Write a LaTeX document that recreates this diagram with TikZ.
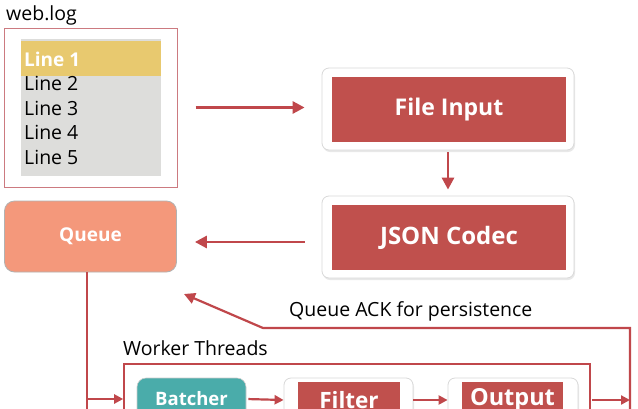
\documentclass[tikz,border=0pt]{standalone}
\usepackage{fontspec}
\setmainfont{Open Sans}
\usetikzlibrary{arrows.meta,shadows}
\definecolor{cred}{HTML}{C0504D}
\definecolor{carr}{HTML}{C0474B}
\definecolor{cgray}{HTML}{DDDDDB}
\definecolor{cyel}{HTML}{E8C96F}
\definecolor{cframe}{HTML}{CC7A80}
\definecolor{cqueue}{HTML}{F4987B}
\definecolor{cteal}{HTML}{4AACAA}
\newcommand{\fsz}[1]{\fontsize{#1}{#1}\selectfont}
\begin{document}
\begin{tikzpicture}[x=1pt,y=-1pt,
  lbl/.style={inner sep=0pt, font=\fsz{19.5}, text=black},
  shell/.style={fill=white, draw=black!15, line width=0.8pt, rounded corners=7pt,
    drop shadow={opacity=0.18, shadow xshift=1pt, shadow yshift=-2pt}},
  redbox/.style={fill=cred, text=white, inner sep=0pt, font=\fsz{23}\bfseries},
  arr/.style={draw=carr, line width=2.8pt, -{Triangle[length=12pt,width=12pt]}},
  arrs/.style={draw=carr, line width=2.2pt, -{Triangle[length=9pt,width=9pt]}},
  wire/.style={draw=carr, line width=2.2pt}]
\useasboundingbox (0,0) rectangle (638,408);
\clip (0,0) rectangle (638,408);
\fill[white] (0,0) rectangle (638,408);

% web.log
\node[lbl, anchor=base west] (title) at (6,20) {web.log};
\node[draw=cframe, line width=1pt, minimum width=173pt, minimum height=159pt, inner sep=0pt] (logbox) at (90.5,107.5) {};
\node[fill=cgray, minimum width=140pt, minimum height=137pt, inner sep=0pt] (gray) at (91,107.5) {};
\node[fill=cyel, minimum width=140pt, minimum height=35pt, inner sep=0pt] (yel) at (91,58.5) {};
\node[lbl, anchor=base west, text=white, font=\fsz{19}\bfseries] (l1) at (24,66) {Line 1};
\node[lbl, anchor=base west] (l2) at (24,90) {Line 2};
\node[lbl, anchor=base west] (l3) at (24,115) {Line 3};
\node[lbl, anchor=base west] (l4) at (24,139) {Line 4};
\node[lbl, anchor=base west] (l5) at (24,164) {Line 5};

% File Input / JSON Codec
\node[shell, minimum width=252pt, minimum height=82pt] (fi) at (448,109) {};
\node[redbox, minimum width=234pt, minimum height=65pt] (fiin) at (449,109.5) {File Input};
\node[shell, minimum width=252pt, minimum height=82pt] (js) at (448,237) {};
\node[redbox, minimum width=234pt, minimum height=65pt, font=\fsz{24}\bfseries] (jsin) at (449,237.5) {JSON Codec};

% Queue
\node[fill=cqueue, draw=black!30, line width=0.8pt, rounded corners=10pt,
  minimum width=172pt, minimum height=71pt, text=white, font=\fsz{19}\bfseries] (queue) at (90.5,236.5) {Queue};

% top arrows
\draw[arr, shorten <=18pt, shorten >=17pt] (logbox.east) -- (logbox.east -| fi.west);
\draw[arr, shorten <=2pt, shorten >=6pt] (fi.south) -- (js.north);
\draw[arr, shorten <=17pt, shorten >=18pt] ([yshift=-5pt]js.west) -- ([yshift=-5pt]js.west -| queue.east);

% labels
\node[lbl, anchor=base west] (ack) at (289,316) {Queue ACK for persistence};
\node[lbl, anchor=base west] (wt) at (123,355) {Worker Threads};

% worker threads frame
\node[draw=carr, line width=1.6pt, minimum width=466pt, minimum height=70pt, inner sep=0pt] (worker) at (357,399) {};

% workers
\node[fill=cteal, draw=black!20, line width=0.6pt, rounded corners=9pt, minimum width=109pt, minimum height=42pt,
  text=white, font=\fsz{18.5}\bfseries] (batch) at (191.5,399) {Batcher};
\node[shell, minimum width=129pt, minimum height=44pt] (flt) at (348.5,400) {};
\node[redbox, minimum width=102pt, minimum height=36pt, font=\fsz{22.5}\bfseries] (fltin) at (349,400) {Filter};
\node[shell, minimum width=130pt, minimum height=44pt] (out) at (513,400) {};
\node[redbox, minimum width=101pt, minimum height=36pt, font=\fsz{23.5}\bfseries] (outin) at (512.5,400) {Output};

% queue feed
\coordinate (qbot) at (87,420);
\coordinate (qb) at (87,399);
\draw[wire] ([xshift=-3.5pt]queue.south) -- (qbot);
\draw[arrs] (qb) -- (worker.west);
\draw[arrs, shorten <=2pt] (batch.east) -- (flt.west);
\draw[arrs] (flt.east) -- (out.west);

% ack loop
\coordinate (loopbot) at (630,420);
\coordinate (loopturn) at (263,328);
\coordinate (ackend) at (184,294);
\draw[arrs, shorten <=14pt] (out.east) -- (out.east -| loopbot);
\draw[wire, -{Triangle[length=11pt,width=11pt]}] (loopbot) -- (630,328) -- (loopturn) -- (ackend);
\end{tikzpicture}
\end{document}
